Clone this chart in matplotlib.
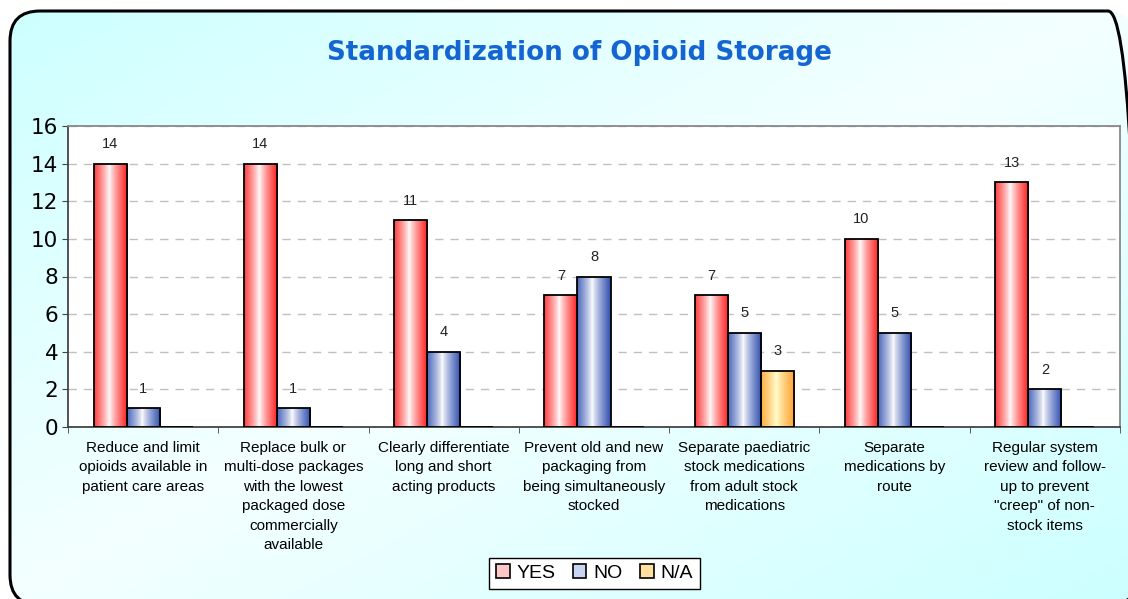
import numpy as np
import matplotlib
matplotlib.use("Agg")
import matplotlib.pyplot as plt
from matplotlib.patches import FancyBboxPatch, Patch
from matplotlib.colors import to_rgb

# data
categories = [
    "Reduce and limit\nopioids available in\npatient care areas",
    "Replace bulk or\nmulti-dose packages\nwith the lowest\npackaged dose\ncommercially\navailable",
    "Clearly differentiate\nlong and short\nacting products",
    "Prevent old and new\npackaging from\nbeing simultaneously\nstocked",
    "Separate paediatric\nstock medications\nfrom adult stock\nmedications",
    "Separate\nmedications by\nroute",
    "Regular system\nreview and follow-\nup to prevent\n\"creep\" of non-\nstock items",
]
yes_vals = [14, 14, 11, 7, 7, 10, 13]
no_vals = [1, 1, 4, 8, 5, 5, 2]
na_vals = [0, 0, 0, 0, 3, 0, 0]
series_names = ["YES", "NO", "N/A"]

# edge colour, centre colour of each bar gradient
grad_cols = [("#ff2020", "#ffffff"), ("#3050b0", "#ffffff"), ("#ffa030", "#ffffd0")]

W, H = 1128, 599
fig = plt.figure(figsize=(W / 100, H / 100), dpi=100, facecolor="white")

##-- background: gradient masked to a rounded box, built pixel by pixel
bx0, by0, bx1, by1, rad = 10, 11, 1138, 605, 30
yy, xx = np.mgrid[0:H, 0:W] + 0.5
t = (xx / W + yy / H) / 2.0
w = 1 - np.abs(t - 0.5) * 2  # 1 on the anti-diagonal
cyan = np.array(to_rgb("#ccffff"))
light = np.array(to_rgb("#f4ffff"))
img = cyan[None, None, :] * (1 - w[..., None]) + light[None, None, :] * w[..., None]
dx = np.maximum(np.maximum(bx0 + rad - xx, 0), xx - (bx1 - rad))
dy = np.maximum(np.maximum(by0 + rad - yy, 0), yy - (by1 - rad))
img[dx ** 2 + dy ** 2 > rad ** 2] = 1.0

bg = fig.add_axes([0, 0, 1, 1], zorder=-5)
bg.imshow(img, extent=[0, W, 0, H], origin="upper", aspect="auto", zorder=1,
          interpolation="nearest")
frame = FancyBboxPatch((bx0, H - by1), bx1 - bx0, by1 - by0,
                       boxstyle=f"round,pad=0,rounding_size={rad}",
                       facecolor="none", edgecolor="black", linewidth=2.2, zorder=3)
bg.add_patch(frame)
bg.set_xlim(0, W)
bg.set_ylim(0, H)
bg.axis("off")
##-- end background

ax = fig.add_axes([68 / W, 1 - 427 / H, (1120 - 68) / W, (427 - 126) / H])
ax.set_facecolor("white")

x = np.arange(len(categories))
bw = 0.22
offsets = [-bw, 0, bw]
all_vals = [yes_vals, no_vals, na_vals]

prof = np.linspace(0, 1, 64)
wt = np.clip(np.abs(prof - 0.45) / 0.55, 0, 1) ** 0.8

for vals, off, (edge_c, mid_c) in zip(all_vals, offsets, grad_cols):
    e = np.array(to_rgb(edge_c))
    m = np.array(to_rgb(mid_c))
    grad = (m[None, :] * (1 - wt[:, None]) + e[None, :] * wt[:, None])[None, :, :]
    bars = ax.bar(x + off, vals, width=bw, facecolor="none", edgecolor="black",
                  linewidth=1.3, zorder=4)
    for b, v in zip(bars, vals):
        if v <= 0:
            continue
        x0 = b.get_x()
        gi = ax.imshow(grad, extent=[x0, x0 + bw, 0, v], aspect="auto", zorder=3,
                       interpolation="bilinear")
        gi.set_clip_path(b)
        ax.annotate(str(v), (x0 + bw / 2, v), xytext=(0, 9), textcoords="offset points",
                    ha="center", va="bottom", fontsize=10.5, family="Liberation Sans",
                    color="#222222")

ax.set_xlim(-0.5, len(categories) - 0.5)
ax.set_ylim(0, 16)
ax.set_yticks(range(0, 17, 2))
ax.yaxis.grid(True, linestyle=(0, (6, 5)), color="#c0c0c0", linewidth=1.0)
ax.set_axisbelow(True)
ax.tick_params(axis="y", labelsize=15.5, length=4, color="#444444", pad=3)
ax.set_xticks(x)
ax.set_xticklabels(categories, fontsize=11, family="Liberation Sans", linespacing=1.5)
ax.tick_params(axis="x", length=0, pad=10)
ax.set_xticks(np.arange(-0.5, len(categories), 1), minor=True)
ax.tick_params(axis="x", which="minor", length=4, color="#444444")
for s in ["left", "bottom"]:
    ax.spines[s].set_color("#444444")
    ax.spines[s].set_linewidth(1.3)
for s in ["top", "right"]:
    ax.spines[s].set_color("#888888")
    ax.spines[s].set_linewidth(1.3)

fig.text(0.514, 0.911, "Standardization of Opioid Storage", ha="center", va="center",
         fontsize=18.8, fontweight="bold", color="#1464d2")

handles = [Patch(facecolor=c, edgecolor="black", linewidth=1.2)
           for c in ["#ffc8c8", "#c8d4f0", "#ffe0a0"]]
leg = fig.legend(handles, series_names, loc="center", bbox_to_anchor=(0.527, 0.043), ncol=3,
                 prop={"family": "Liberation Sans", "size": 14},
                 frameon=True, fancybox=False, edgecolor="black", framealpha=1,
                 handlelength=0.7, handleheight=0.7, handletextpad=0.35,
                 columnspacing=0.9, borderpad=0.35)
leg.get_frame().set_linewidth(1.0)

fig.savefig("out.png", dpi=100, facecolor=fig.get_facecolor())
